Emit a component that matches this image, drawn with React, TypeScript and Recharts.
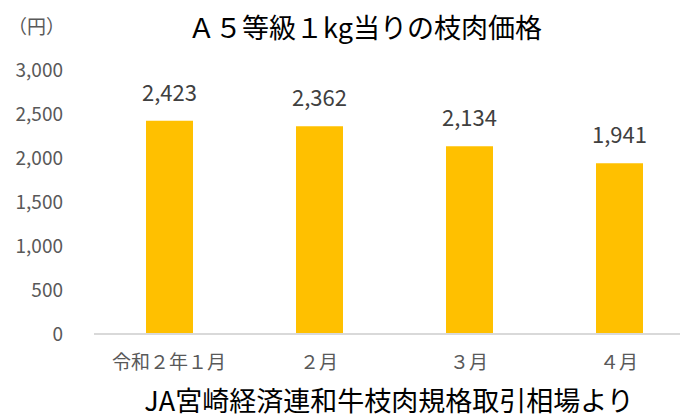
import React from "react";
import { BarChart, Bar, XAxis, YAxis, LabelList } from "recharts";

const months = ["令和２年１月", "２月", "３月", "４月"];
const prices = [2423, 2362, 2134, 1941];
const yTicks = [0, 500, 1000, 1500, 2000, 2500, 3000];

const data = months.map((m, i) => ({ month: m, price: prices[i] }));

const jp = '"Noto Sans CJK JP", "Noto Sans", sans-serif';
const fmt = (v: number) => v.toLocaleString("en-US");

const App = () => {
  return (
    <div
      style={{
        position: "absolute",
        left: 0,
        top: 0,
        width: 680,
        height: 418,
        overflow: "hidden",
        background: "#fff",
        fontFamily: jp,
      }}
    >
      <BarChart
        width={700}
        height={418}
        data={data}
        margin={{ top: 70, right: 6, left: 0, bottom: 53 }}
      >
        <XAxis
          dataKey="month"
          axisLine={{ stroke: "#D9D9D9", strokeWidth: 2 }}
          tickLine={false}
          tickSize={0}
          tickMargin={22}
          height={31}
          tick={{ fill: "#595959", fontSize: 19, fontFamily: jp }}
          interval={0}
        />
        <YAxis
          domain={[0, 3000]}
          ticks={yTicks}
          width={94}
          axisLine={false}
          tickLine={false}
          tickSize={0}
          tickMargin={31}
          tickFormatter={fmt}
          tick={{ fill: "#595959", fontSize: 19, fontFamily: jp }}
        />
        <Bar dataKey="price" fill="#FFC000" barSize={47} isAnimationActive={false}>
          <LabelList
            dataKey="price"
            position="top"
            offset={20}
            formatter={(v: number) => fmt(v)}
            style={{ fill: "#404040", fontSize: 22, fontFamily: jp }}
          />
        </Bar>
      </BarChart>
      <div
        style={{
          position: "absolute",
          left: 8,
          top: 16,
          fontSize: 19,
          lineHeight: 1,
          color: "#595959",
          whiteSpace: "nowrap",
        }}
      >
        （円）
      </div>
      <div
        style={{
          position: "absolute",
          left: 365,
          top: 13,
          transform: "translateX(-50%)",
          fontSize: 27,
          lineHeight: 1,
          color: "#000",
          whiteSpace: "nowrap",
        }}
      >
        Ａ５等級１kg当りの枝肉価格
      </div>
      <div
        style={{
          position: "absolute",
          left: 389,
          top: 385,
          transform: "translateX(-50%)",
          fontSize: 27,
          lineHeight: 1.1,
          color: "#000",
          whiteSpace: "nowrap",
        }}
      >
        JA宮崎経済連和牛枝肉規格取引相場より
      </div>
    </div>
  );
};

export default App;
